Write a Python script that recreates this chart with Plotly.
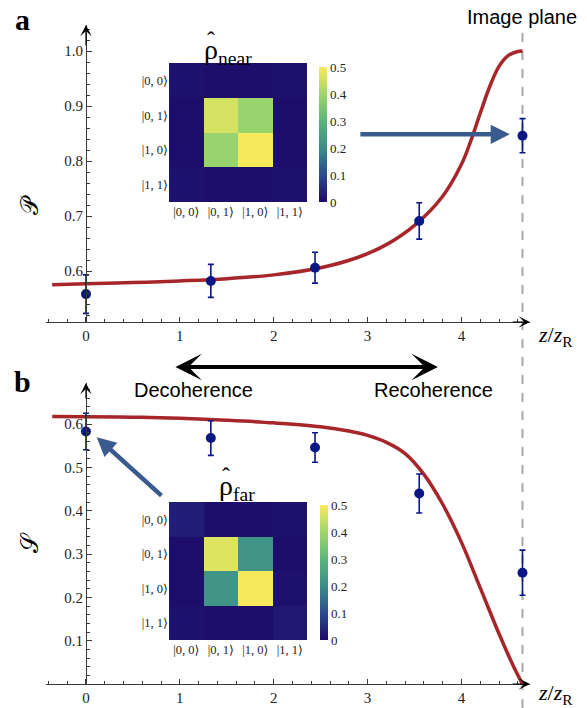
import plotly.graph_objects as go

# ---------------- data ----------------
z_points = [0.0, 1.33, 2.44, 3.55, 4.65]
purity_vals = [0.558, 0.582, 0.606, 0.691, 0.846]
purity_err = [0.035, 0.030, 0.028, 0.033, 0.031]
entropy_vals = [0.583, 0.568, 0.546, 0.440, 0.257]
entropy_err = [0.042, 0.040, 0.034, 0.045, 0.052]

curve_a_x = [-0.36, 0.0, 0.5, 1.0, 1.5, 2.0, 2.5, 2.9, 3.2, 3.5, 3.8, 4.0, 4.1, 4.2, 4.3,
             4.4, 4.5, 4.6, 4.65]
curve_a_y = [0.575, 0.577, 0.579, 0.582, 0.586, 0.593, 0.606, 0.625, 0.648, 0.683, 0.736,
             0.794, 0.837, 0.887, 0.935, 0.972, 0.992, 0.999, 1.0]
curve_b_x = [-0.36, 0.0, 0.5, 1.0, 1.5, 2.0, 2.5, 2.8, 3.0, 3.2, 3.4, 3.6, 3.8, 4.0, 4.2,
             4.4, 4.55, 4.65]
curve_b_y = [0.6175, 0.617, 0.616, 0.6135, 0.609, 0.603, 0.594, 0.584, 0.574, 0.558, 0.532,
             0.484, 0.415, 0.327, 0.222, 0.116, 0.043, 0.0]

basis = ["|0, 0⟩", "|0, 1⟩", "|1, 0⟩", "|1, 1⟩"]
rho_near = [[0.010, 0.005, 0.005, 0.010],
            [0.005, 0.460, 0.390, 0.005],
            [0.005, 0.390, 0.500, 0.005],
            [0.010, 0.005, 0.005, 0.010]]
rho_far = [[0.030, 0.005, 0.005, 0.010],
           [0.005, 0.470, 0.220, 0.005],
           [0.005, 0.220, 0.510, 0.010],
           [0.010, 0.005, 0.005, 0.020]]

x_ticks = [0, 1, 2, 3, 4]
a_yticks = [0.6, 0.7, 0.8, 0.9, 1.0]
b_yticks = [0.1, 0.2, 0.3, 0.4, 0.5, 0.6]
cb_ticks = [0, 0.1, 0.2, 0.3, 0.4, 0.5]
cb_text = ["0", "0.1", "0.2", "0.3", "0.4", "0.5"]

image_plane = 4.65
x_range = [-0.426, 4.73]
a_range = [0.5073, 1.0473]
b_range = [0.0, 0.695]

# ---------------- style ----------------
W, H = 587, 708
SERIF = "Liberation Serif, DejaVu Serif, serif"
SANS = "Liberation Sans, Arial, sans-serif"
NAVY = "#0b1784"
RED = "#a6262a"
BLUE = "#3b5b8e"
AXC = "#3a3a3a"
cscale = [[0.0, "#1d0b6a"], [0.2, "#2b4a8e"], [0.4, "#3a8d8a"],
          [0.6, "#5cb57a"], [0.8, "#a0d66b"], [1.0, "#f7ea5a"]]

def px_x(p):
    return p / W

def px_y(p):
    return 1 - p / H

fig = go.Figure()

# curves
fig.add_trace(go.Scatter(x=curve_a_x, y=curve_a_y, mode="lines",
                         line=dict(color=RED, width=3.5, shape="spline", smoothing=1.0),
                         xaxis="x", yaxis="y", showlegend=False))
fig.add_trace(go.Scatter(x=curve_b_x, y=curve_b_y, mode="lines",
                         line=dict(color=RED, width=3.5, shape="spline", smoothing=1.0),
                         xaxis="x2", yaxis="y2", showlegend=False))
# data points
fig.add_trace(go.Scatter(x=z_points, y=purity_vals, mode="markers",
                         marker=dict(color=NAVY, size=10),
                         error_y=dict(type="data", array=purity_err, color=NAVY, thickness=1.6, width=3),
                         xaxis="x", yaxis="y", showlegend=False))
fig.add_trace(go.Scatter(x=z_points, y=entropy_vals, mode="markers",
                         marker=dict(color=NAVY, size=10),
                         error_y=dict(type="data", array=entropy_err, color=NAVY, thickness=1.6, width=3),
                         xaxis="x2", yaxis="y2", showlegend=False))

# heatmaps
cb_common = dict(thickness=8, outlinewidth=0, ticks="", tickvals=cb_ticks, ticktext=cb_text,
                 tickfont=dict(family=SERIF, size=13, color="#222"), xanchor="left",
                 yanchor="top", lenmode="fraction", len=135 / H, xpad=0, ypad=0)
fig.add_trace(go.Heatmap(z=rho_near, x=basis, y=basis, colorscale=cscale, zmin=0, zmax=0.5,
                         xaxis="x3", yaxis="y3", hoverinfo="skip",
                         colorbar=dict(x=px_x(319), y=px_y(67), **cb_common)))
fig.add_trace(go.Heatmap(z=rho_far, x=basis, y=basis, colorscale=cscale, zmin=0, zmax=0.5,
                         xaxis="x4", yaxis="y4", hoverinfo="skip",
                         colorbar=dict(x=px_x(320), y=px_y(505), **cb_common)))

main_x = dict(range=x_range, domain=[px_x(46), px_x(530)], showgrid=False, zeroline=False,
              showline=True, linecolor=AXC, linewidth=1.2,
              tickmode="array", tickvals=x_ticks, ticks="inside", ticklen=5, tickcolor=AXC,
              minor=dict(dtick=0.2, tick0=0, ticks="inside", ticklen=3, tickcolor=AXC, showgrid=False),
              tickfont=dict(family=SERIF, size=15, color="#222"))
main_y = dict(showgrid=False, zeroline=False, showline=True, linecolor=AXC, linewidth=1.2,
              anchor="free", position=px_x(86), ticks="inside", ticklen=5, tickcolor=AXC,
              tickformat=".1f", tickfont=dict(family=SERIF, size=15, color="#222"))

hm_x = dict(showgrid=False, zeroline=False, showline=False, ticks="",
            tickfont=dict(family=SERIF, size=12.5, color="#222"), fixedrange=True)
hm_y = dict(showgrid=False, zeroline=False, showline=False, ticks="", autorange="reversed",
            tickfont=dict(family=SERIF, size=12.5, color="#222"), fixedrange=True)

fig.update_layout(
    width=W, height=H, autosize=False,
    margin=dict(l=0, r=0, t=0, b=0),
    paper_bgcolor="white", plot_bgcolor="rgba(0,0,0,0)",
    showlegend=False,
    xaxis=dict(anchor="y", **main_x),
    yaxis=dict(domain=[px_y(322), px_y(25)], range=a_range,
               tickvals=a_yticks, minor=dict(dtick=0.02, tick0=0, ticks="inside", ticklen=3,
                                            tickcolor=AXC, showgrid=False), **main_y),
    xaxis2=dict(anchor="y2", **main_x),
    yaxis2=dict(domain=[px_y(684), px_y(383)], range=b_range,
                tickvals=b_yticks, minor=dict(dtick=0.02, tick0=0, ticks="inside", ticklen=3,
                                             tickcolor=AXC, showgrid=False), **main_y),
    xaxis3=dict(domain=[px_x(169), px_x(307)], anchor="y3", **hm_x),
    yaxis3=dict(domain=[px_y(202), px_y(63)], anchor="x3", **hm_y),
    xaxis4=dict(domain=[px_x(169), px_x(307)], anchor="y4", **hm_x),
    yaxis4=dict(domain=[px_y(640), px_y(502)], anchor="x4", **hm_y),
)

# image plane dashed line
fig.add_shape(type="line", xref="x", yref="paper", x0=image_plane, x1=image_plane,
              y0=0, y1=px_y(32), line=dict(color="#a8a8a8", width=2, dash="dash"), layer="below")

ann = []
# axis arrowheads
for xr, yr, yb, ytop in [("x", "y", a_range[0], a_range[1]), ("x2", "y2", b_range[0], b_range[1])]:
    ann.append(dict(xref=xr, yref=yr, axref=xr, ayref=yr, x=x_range[1], y=yb,
                    ax=x_range[1] - 0.2, ay=yb, showarrow=True, arrowhead=3, arrowsize=1.6,
                    arrowwidth=1.2, arrowcolor="black", text=""))
    ann.append(dict(xref=xr, yref=yr, axref=xr, ayref=yr, x=0, y=ytop,
                    ax=0, ay=ytop - 0.04, showarrow=True, arrowhead=3, arrowsize=1.6,
                    arrowwidth=1.2, arrowcolor="black", text=""))

# blue arrows
ann.append(dict(xref="x", yref="y", axref="x", ayref="y", x=4.515, y=0.8485, ax=2.907, ay=0.8485,
                showarrow=True, arrowhead=2, arrowsize=0.85, arrowwidth=4.5, arrowcolor=BLUE, text=""))
ann.append(dict(xref="x2", yref="y2", axref="x2", ayref="y2", x=0.114, y=0.570, ax=0.82, ay=0.432,
                showarrow=True, arrowhead=2, arrowsize=0.85, arrowwidth=4.5, arrowcolor=BLUE, text=""))

# double arrow
ann.append(dict(xref="x", yref="paper", axref="x", ayref="pixel", x=3.749, y=px_y(367),
                ax=0.937, ay=0, showarrow=True, arrowhead=3, startarrowhead=3,
                arrowside="end+start", arrowsize=1.1, startarrowsize=1.1, arrowwidth=4,
                arrowcolor="black", text=""))

def txt(x, y, text, size, family=SANS, **kw):
    d = dict(xref="paper", yref="paper", x=px_x(x), y=px_y(y), text=text, showarrow=False,
             font=dict(family=family, size=size, color=kw.pop("color", "black")),
             xanchor=kw.pop("xanchor", "center"), yanchor=kw.pop("yanchor", "middle"))
    d.update(kw)
    ann.append(d)

txt(22, 20, "<b>a</b>", 30, family=SERIF)
txt(22, 381, "<b>b</b>", 30, family=SERIF)
txt(522, 17, "Image plane", 20)
txt(193, 390, "Decoherence", 20)
txt(433, 390, "Recoherence", 20)
txt(536, 336, "<i>z</i>/<i>z</i><sub>R</sub>", 22, family=SERIF, xanchor="left")
txt(536, 694, "<i>z</i>/<i>z</i><sub>R</sub>", 22, family=SERIF, xanchor="left")
txt(30, 205, "𝒫", 24, family="DejaVu Serif, serif", textangle=-90)
txt(30, 543, "𝒮", 24, family="DejaVu Serif, serif", textangle=-90)
# inset titles (rho with hat)
txt(202, 51, "ρ<sub>near</sub>", 28, family=SERIF, xanchor="left")
txt(211, 40, "ˆ", 24, family=SERIF)
txt(217, 487, "ρ<sub>far</sub>", 28, family=SERIF, xanchor="left")
txt(226, 476, "ˆ", 24, family=SERIF)

fig.update_layout(annotations=ann, hovermode=False)
fig.write_html("out.html", config={"displayModeBar": False, "staticPlot": True},
               post_script="document.body.style.margin='0px';document.body.style.padding='0px';"
                           "document.body.style.overflow='hidden';")
